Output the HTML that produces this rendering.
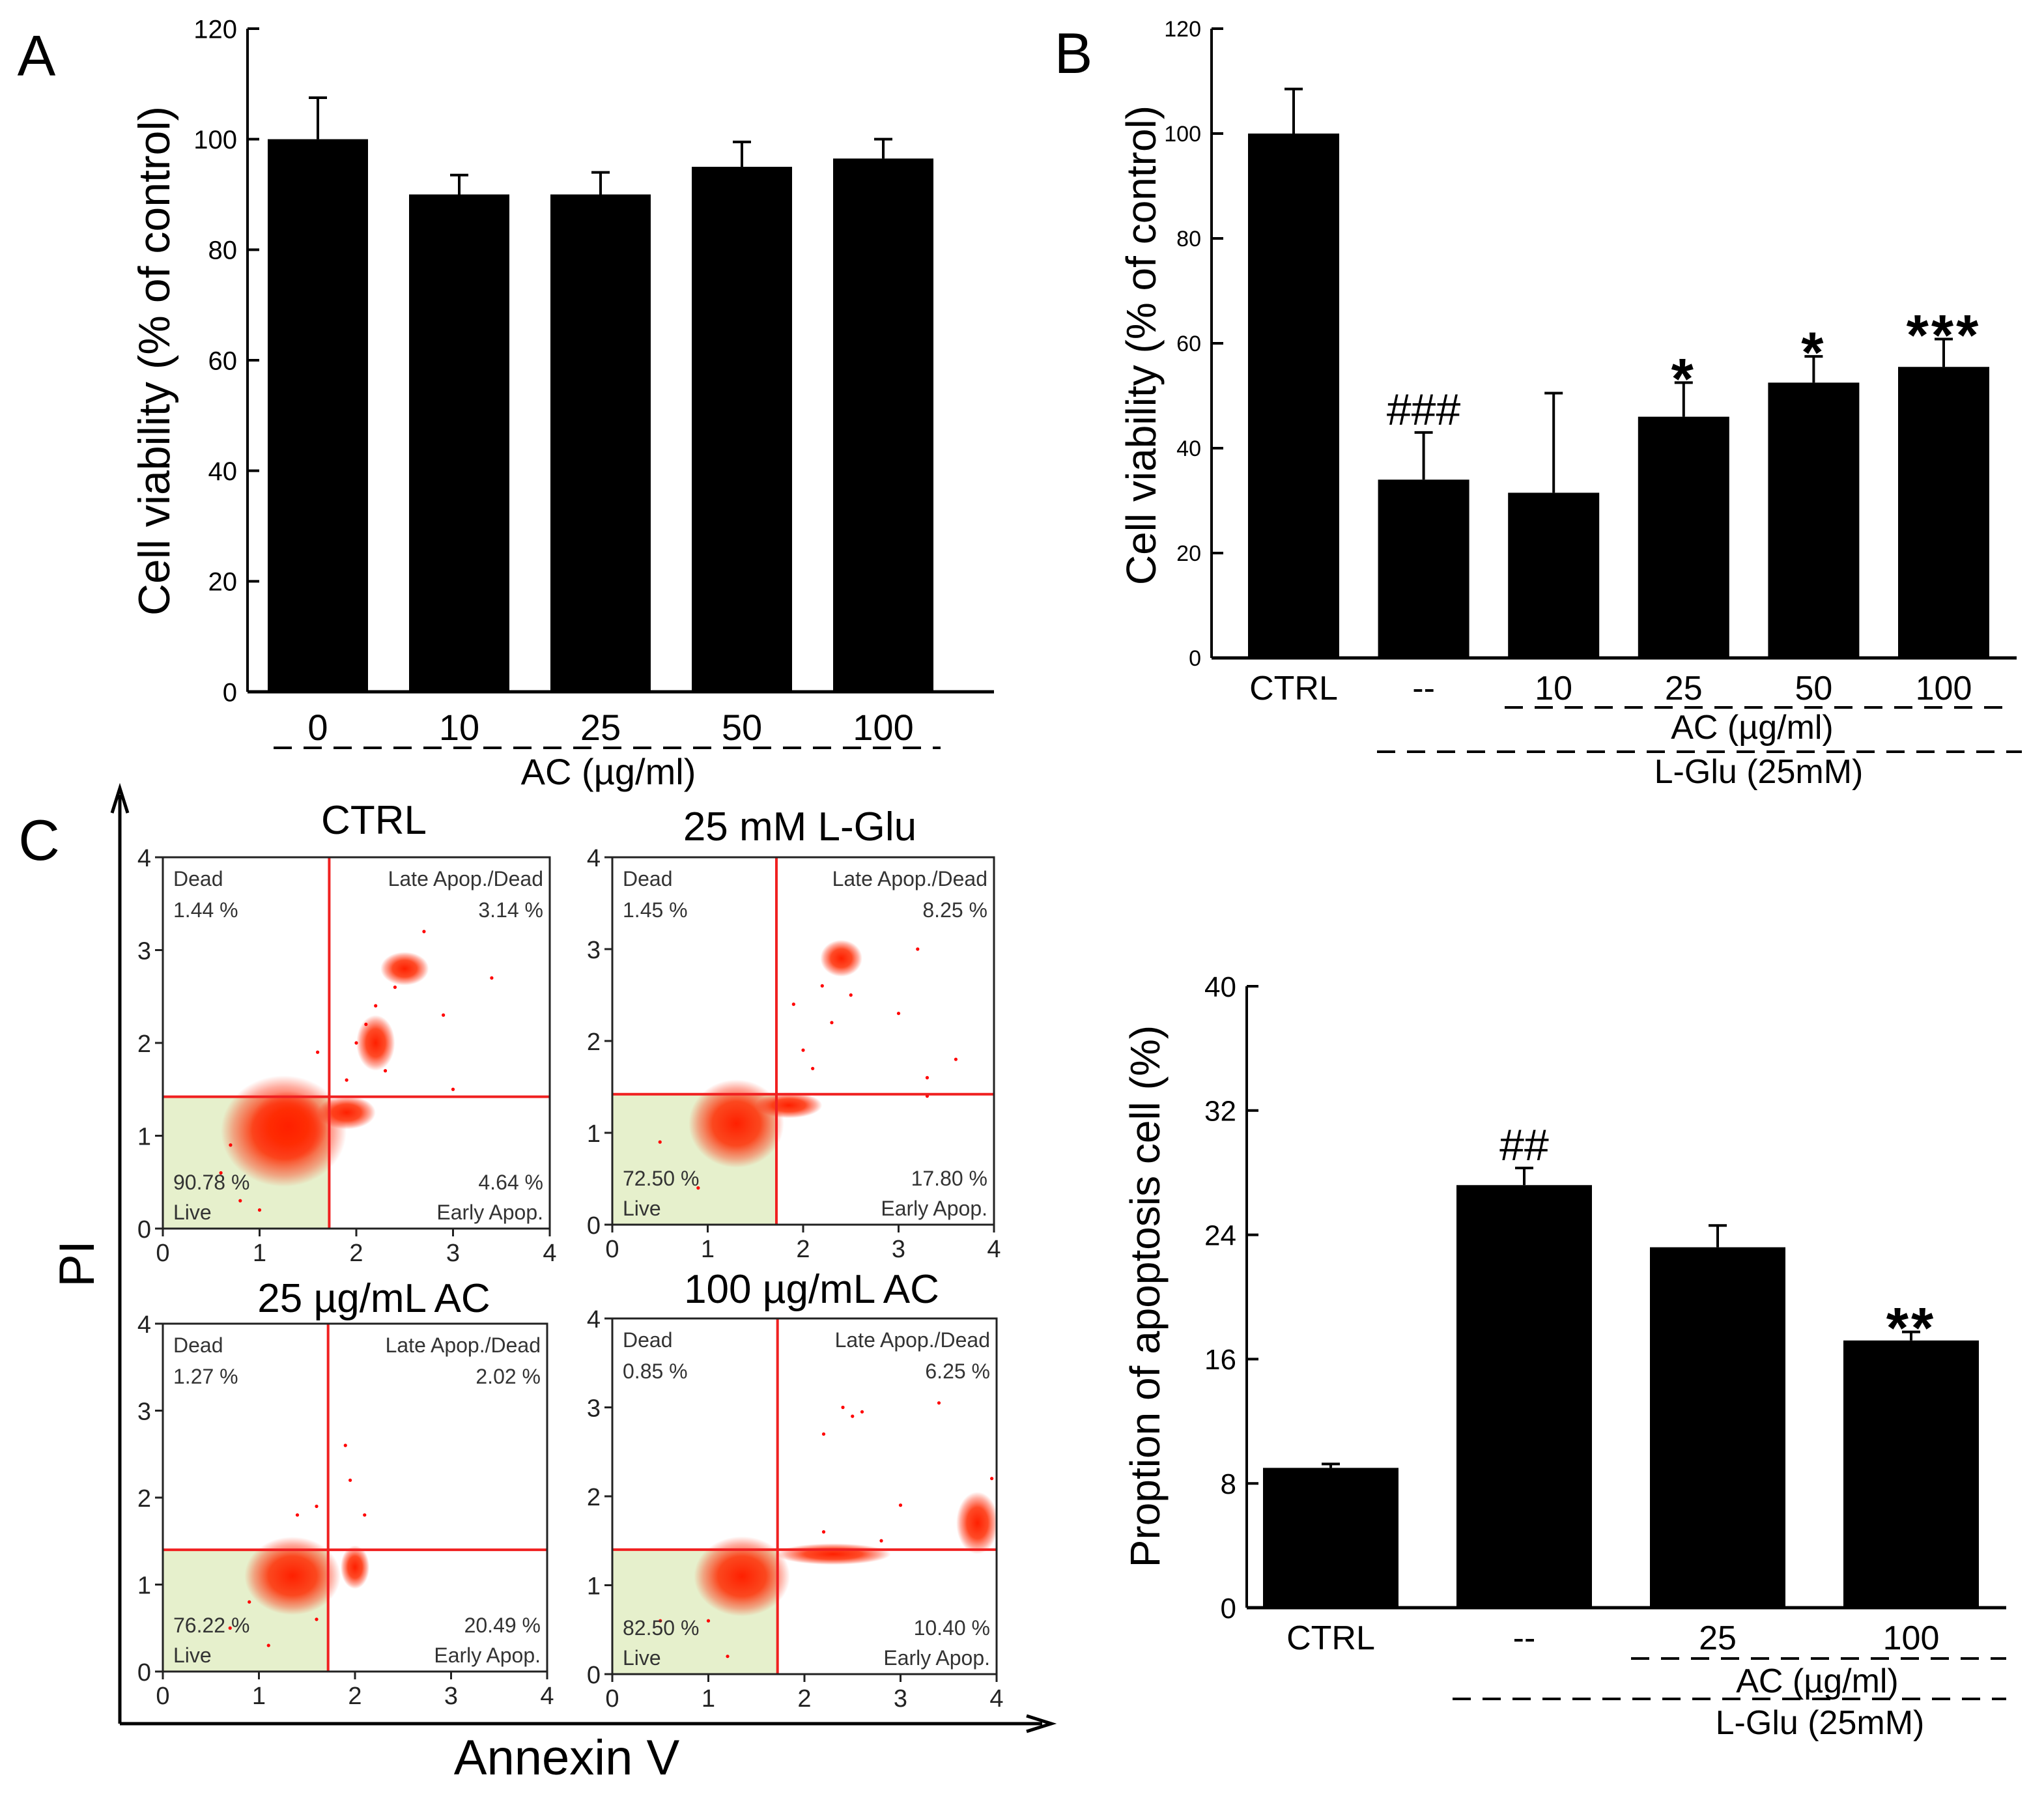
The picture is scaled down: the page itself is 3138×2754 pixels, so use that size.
<!DOCTYPE html>
<html><head><meta charset="utf-8"><style>
html,body{margin:0;padding:0;background:#fff}
svg{display:block}
text{font-family:"Liberation Sans",Arial,sans-serif}
.nar{font-family:"Liberation Sans Narrow","Liberation Sans",sans-serif}
.q{font-family:"Liberation Sans",sans-serif;fill:#333;font-size:16px}
</style></head><body>
<svg id="fig" width="3138" height="2754" viewBox="0 0 1569 1377" xmlns="http://www.w3.org/2000/svg">
<defs>
<radialGradient id="dens"><stop offset="0" stop-color="#ff2000" stop-opacity="1"/><stop offset="0.5" stop-color="#ff2a00" stop-opacity="0.85"/><stop offset="0.8" stop-color="#ff3010" stop-opacity="0.4"/><stop offset="1" stop-color="#ff3010" stop-opacity="0"/></radialGradient>
</defs>
<g id="root"></g>
</svg>
<script>
// ---- Panel A data ----
const catsA = ["0","10","25","50","100"];
const valsA = [100, 90, 90, 95, 96.5];
const errA = [7.5, 3.5, 4, 4.5, 3.5];
const ticksA = [0,20,40,60,80,100,120];
// ---- Panel B data ----
const catsB = ["CTRL","--","10","25","50","100"];
const valsB = [100, 34, 31.5, 46, 52.5, 55.5];
const errB = [8.5, 9, 19, 6.5, 5, 5.3];
const sigB = ["", "###", "", "*", "*", "***"];
const ticksB = [0,20,40,60,80,100,120];
// ---- Panel D data ----
const catsD = ["CTRL","--","25","100"];
const valsD = [9, 27.2, 23.2, 17.2];
const errD = [0.25, 1.1, 1.4, 0.55];
const sigD = ["", "##", "", "**"];
const ticksD = [0,8,16,24,32,40];
// ---- Flow data ----
const flowTitles = ["CTRL","25 mM L-Glu","25 µg/mL AC","100 µg/mL AC"];
const flowDead = ["1.44 %","1.45 %","1.27 %","0.85 %"];
const flowLate = ["3.14 %","8.25 %","2.02 %","6.25 %"];
const flowLive = ["90.78 %","72.50 %","76.22 %","82.50 %"];
const flowEarly = ["4.64 %","17.80 %","20.49 %","10.40 %"];
const gateX = [1.72, 1.72, 1.72, 1.72];
const gateY = [1.42, 1.42, 1.4, 1.4];
// clusters: [x, y, rx, ry] in data units
const clusters = [
 [[1.25,1.05,0.65,0.6],[1.3,1.1,0.4,0.38],[1.9,1.25,0.3,0.18],[2.5,2.8,0.25,0.18],[2.2,2.0,0.2,0.3]],
 [[1.3,1.1,0.5,0.48],[1.85,1.3,0.35,0.14],[2.4,2.9,0.22,0.2]],
 [[1.35,1.1,0.5,0.45],[2.0,1.2,0.15,0.25]],
 [[1.35,1.1,0.5,0.45],[2.3,1.35,0.6,0.12],[3.8,1.7,0.22,0.35]]
];
const specks = [
 [[2.0,2.0],[2.2,2.4],[2.7,3.2],[3.4,2.7],[2.9,2.3],[0.6,0.6],[0.8,0.3],[1.6,1.9],[2.3,1.7],[3.0,1.5],[2.1,2.2],[2.4,2.6],[1.9,1.6],[0.7,0.9],[1.0,0.2]],
 [[2.3,2.2],[2.1,1.7],[3.2,3.0],[3.6,1.8],[3.3,1.4],[1.9,2.4],[2.5,2.5],[0.5,0.9],[0.9,0.4],[3.0,2.3],[2.2,2.6],[2.0,1.9],[3.3,1.6]],
 [[1.9,2.6],[1.95,2.2],[1.4,1.8],[1.6,1.9],[0.7,0.5],[1.1,0.3],[2.1,1.8],[1.6,0.6],[0.9,0.8]],
 [[2.4,3.0],[2.6,2.95],[2.2,2.7],[3.4,3.05],[3.0,1.9],[2.2,1.6],[0.5,0.6],[1.2,0.2],[3.95,2.2],[2.5,2.9],[1.0,0.6],[2.8,1.5]]
];
const flowBoxes = [[125,658,422,943],[470,658,763,940],[125,1016,420,1283],[470,1012,765,1285]];

const NS="http://www.w3.org/2000/svg";
const root=document.getElementById('root');
function el(tag,attrs,parent,txt){const e=document.createElementNS(NS,tag);for(const k in attrs)e.setAttribute(k,attrs[k]);if(txt!==undefined)e.textContent=txt;(parent||root).appendChild(e);return e;}

function barChart(o){
  const g=el('g',{});
  
  
  const y=v=>o.y0-(v-o.min)/(o.max-o.min)*(o.y0-o.y1);
  const ax=el('line',{x1:o.ax,y1:o.y1,x2:o.ax,y2:o.y0,stroke:'#000','stroke-width':2},g);
  
  
  const xa=el('line',{x1:o.ax,y1:o.y0,x2:o.axEnd,y2:o.y0,stroke:'#000','stroke-width':2.5},g);
  
  
  o.ticks.forEach(t=>{
    el('line',{x1:o.ax,y1:y(t),x2:o.ax+9,y2:y(t),stroke:'#000','stroke-width':2},g);
    const tl=el('text',{x:o.ax-8,y:y(t)+o.tfs*0.36,'text-anchor':'end','font-size':o.tfs,class:'nar'},g,String(t));
    
    
  });
  o.vals.forEach((v,i)=>{
    const cx=o.c0+i*o.step;
    const b=el('rect',{x:cx-o.bw/2,y:y(v),width:o.bw,height:o.y0-y(v),fill:'#000'},g);
    
    
    const et=y(v+o.err[i]);
    const e=el('path',{d:`M${cx},${y(v)}V${et}M${cx-7},${et}H${cx+7}`,stroke:'#000','stroke-width':2,fill:'none'},g);
    
    
    const c=el('text',{x:cx,y:o.labY,'text-anchor':'middle','font-size':o.lfs},g,o.cats[i]);
    
    
    if(o.sig&&o.sig[i]){
      const isStar=o.sig[i][0]==='*';
      const s=isStar
        ? el('text',{x:cx,y:et+12,'text-anchor':'middle','font-size':44,'font-weight':'bold','letter-spacing':'2'},g,o.sig[i])
        : el('text',{x:cx,y:et-6,'text-anchor':'middle','font-size':34,'font-family':'"Liberation Serif",serif'},g,o.sig[i]);
      
      
    }
  });
  const yt=el('text',{x:0,y:0,transform:`translate(${o.ytx},${o.yty}) rotate(-90)`,'text-anchor':'middle','font-size':o.yfs},g,o.ytitle);
  
  
}
function dash(x1,x2,yy,name){const l=el('line',{x1:x1,y1:yy,x2:x2,y2:yy,stroke:'#000','stroke-width':2,'stroke-dasharray':'14 9'});}
function label(x,yy,s,fs,name,extra){const t=el('text',Object.assign({x:x,y:yy,'text-anchor':'middle','font-size':fs},extra||{}),root,s);return t;}

// Panel A
label(28,58,'A',44,'panel-label-a');
barChart({name:'panel-a-chart',cats:catsA,vals:valsA,err:errA,ticks:ticksA,min:0,max:120,ax:190,axEnd:763,y0:531,y1:22,c0:244,step:108.5,bw:77,tfs:20,lfs:28,labY:568,ytitle:'Cell viability (% of control)',ytx:130,yty:277,yfs:34});
dash(210,722,574,'group-dash-ac-a');
label(467,602,'AC (µg/ml)',28,'x-group-label-ac-a');

// Panel B
label(824,56,'B',44,'panel-label-b');
barChart({name:'panel-b-chart',cats:catsB,vals:valsB,err:errB,sig:sigB,ticks:ticksB,min:0,max:120,ax:930,axEnd:1548,y0:505,y1:22,c0:993,step:99.8,bw:70,tfs:17,lfs:26,labY:537,ytitle:'Cell viability (% of control)',ytx:887,yty:265,yfs:32});
dash(1155,1540,543,'group-dash-ac-b');
label(1345,567,'AC (µg/ml)',26,'x-group-label-ac-b');
dash(1057,1552,577,'group-dash-lglu-b');
label(1350,601,'L-Glu (25mM)',26,'x-group-label-lglu-b');

// Panel D
barChart({name:'panel-d-chart',cats:catsD,vals:valsD,err:errD,sig:sigD,ticks:ticksD,min:0,max:40,ax:957,axEnd:1540,y0:1234,y1:757,c0:1021.5,step:148.5,bw:104,tfs:22,lfs:26,labY:1266,ytitle:'Proption of apoptosis cell (%)',ytx:890,yty:995,yfs:32});
dash(1252,1540,1273,'group-dash-ac-d');
label(1395,1299,'AC (µg/ml)',26,'x-group-label-ac-d');
dash(1115,1540,1304,'group-dash-lglu-d');
label(1397,1331,'L-Glu (25mM)',26,'x-group-label-lglu-d');

// Panel C
label(30,660,'C',44,'panel-label-c');
const axC=el('path',{d:'M92,1323V610M86,624L92,605L98,624M92,1323H800M788,1317L807,1323L788,1329',stroke:'#000','stroke-width':2.5,fill:'none'});


label(0,0,'PI',38,'flow-y-axis-title',{transform:'translate(72,970) rotate(-90)'});
label(435,1362,'Annexin V',38,'flow-x-axis-title');
const titleXY=[[287,640],[614,645],[287,1007],[623,1000]];

flowBoxes.forEach((b,k)=>{
  const [x0,y0,x1,y1]=b;
  const g=el('g',{});
  
  
  const sx=v=>x0+v/4*(x1-x0), sy=v=>y1-v/4*(y1-y0);
  const cp='cp'+k;
  const clip=el('clipPath',{id:cp},g); el('rect',{x:x0,y:y0,width:x1-x0,height:y1-y0},clip);
  const live=el('rect',{x:x0,y:sy(gateY[k]),width:sx(gateX[k])-x0,height:y1-sy(gateY[k]),fill:'#e6f0cc'},g);
  
  
  const cg=el('g',{'clip-path':`url(#${cp})`},g);
  clusters[k].forEach(c=>{
    const e=el('ellipse',{cx:sx(c[0]),cy:sy(c[1]),rx:c[2]/4*(x1-x0),ry:c[3]/4*(y1-y0),fill:'url(#dens)'},cg);
    
    
  });
  specks[k].forEach(p=>{
    const d=el('circle',{cx:sx(p[0]),cy:sy(p[1]),r:1.3,fill:'#f00'},cg);
    
    
  });
  el('line',{x1:sx(gateX[k]),y1:y0,x2:sx(gateX[k]),y2:y1,stroke:'#f02020','stroke-width':2},g);
  el('line',{x1:x0,y1:sy(gateY[k]),x2:x1,y2:sy(gateY[k]),stroke:'#f02020','stroke-width':2},g);
  el('rect',{x:x0,y:y0,width:x1-x0,height:y1-y0,fill:'none',stroke:'#222','stroke-width':1.5},g);
  for(let t=0;t<=4;t++){
    el('line',{x1:sx(t),y1:y1,x2:sx(t),y2:y1+6,stroke:'#222','stroke-width':1.5},g);
    el('line',{x1:x0,y1:sy(t),x2:x0-6,y2:sy(t),stroke:'#222','stroke-width':1.5},g);
    el('text',{x:sx(t),y:y1+25,'text-anchor':'middle','font-size':19,fill:'#222'},g,String(t));
    el('text',{x:x0-9,y:sy(t)+7,'text-anchor':'end','font-size':19,fill:'#222'},g,String(t));
  }
  el('text',{x:x0+8,y:y0+22,class:'q'},g,'Dead');
  el('text',{x:x0+8,y:y0+46,class:'q'},g,flowDead[k]);
  el('text',{x:x1-5,y:y0+22,class:'q','text-anchor':'end'},g,'Late Apop./Dead');
  el('text',{x:x1-5,y:y0+46,class:'q','text-anchor':'end'},g,flowLate[k]);
  el('text',{x:x0+8,y:y1-30,class:'q'},g,flowLive[k]);
  el('text',{x:x0+8,y:y1-7,class:'q'},g,'Live');
  el('text',{x:x1-5,y:y1-30,class:'q','text-anchor':'end'},g,flowEarly[k]);
  el('text',{x:x1-5,y:y1-7,class:'q','text-anchor':'end'},g,'Early Apop.');
  label(titleXY[k][0],titleXY[k][1],flowTitles[k],31,'flow-title');
});
</script>
</body></html>
